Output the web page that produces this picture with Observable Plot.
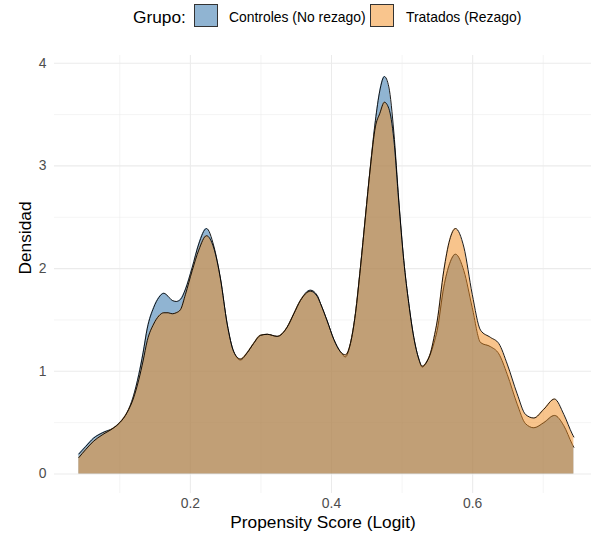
<!DOCTYPE html>
<html>
<head>
<meta charset="utf-8">
<script src="https://cdn.jsdelivr.net/npm/d3@7"></script>
<script src="https://cdn.jsdelivr.net/npm/@observablehq/plot@0.6"></script>
<style>
  html, body { margin: 0; padding: 0; background: #fff; }
  #wrap { position: relative; width: 591px; height: 537px; font-family: "Liberation Sans", Arial, sans-serif; }
  #legend { position: absolute; left: 0; top: 0; width: 591px; height: 34px; }
  #legend .t { position: absolute; font-size: 17.3px; line-height: 20px; color: #000; top: 7px; white-space: nowrap; }
  #legend .l { position: absolute; font-size: 13.9px; line-height: 16px; color: #000; top: 9px; white-space: nowrap; }
  #legend .k { position: absolute; top: 4px; width: 24px; height: 23px; border: 1px solid #333; box-sizing: border-box; }
</style>
</head>
<body>
<div id="wrap">
  <div id="legend"></div>
  <div id="chart"></div>
</div>
<script>
// ---- data ----
const xs = [0.042, 0.052, 0.063, 0.075, 0.0915, 0.1, 0.1105, 0.119, 0.127, 0.133, 0.139, 0.148, 0.1555, 0.1624, 0.1685, 0.1743, 0.18, 0.186, 0.1931, 0.2026, 0.2119, 0.2229, 0.2332, 0.2427, 0.2522, 0.2615, 0.271, 0.2805, 0.2895, 0.2994, 0.309, 0.323, 0.3372, 0.3466, 0.356, 0.3702, 0.3797, 0.3844, 0.3939, 0.4033, 0.4127, 0.4197, 0.4268, 0.4339, 0.441, 0.448, 0.4551, 0.4622, 0.4684, 0.475, 0.4812, 0.4883, 0.4954, 0.5024, 0.5095, 0.5166, 0.5237, 0.5285, 0.5356, 0.5403, 0.545, 0.5498, 0.5591, 0.5675, 0.5757, 0.5875, 0.5994, 0.6112, 0.6253, 0.6371, 0.649, 0.6631, 0.6749, 0.6867, 0.7008, 0.716, 0.7292, 0.7411, 0.7434];

const controles = [0.195, 0.27, 0.35, 0.40, 0.45, 0.50, 0.60, 0.75, 0.97, 1.18, 1.42, 1.62, 1.72, 1.76, 1.73, 1.69, 1.68, 1.70, 1.80, 2.01, 2.24, 2.39, 2.22, 1.90, 1.46, 1.19, 1.11, 1.18, 1.27, 1.35, 1.36, 1.34, 1.43, 1.56, 1.69, 1.79, 1.74, 1.66, 1.49, 1.31, 1.19, 1.14, 1.27, 1.56, 2.01, 2.50, 2.99, 3.44, 3.73, 3.87, 3.77, 3.33, 2.66, 2.08, 1.66, 1.33, 1.12, 1.04, 1.10, 1.17, 1.27, 1.40, 1.82, 2.05, 2.14, 1.98, 1.62, 1.28, 1.24, 1.17, 0.97, 0.68, 0.49, 0.45, 0.50, 0.57, 0.47, 0.29, 0.26];

const tratados = [0.16, 0.24, 0.32, 0.38, 0.45, 0.50, 0.60, 0.73, 0.92, 1.10, 1.30, 1.46, 1.54, 1.57, 1.57, 1.56, 1.57, 1.60, 1.75, 1.98, 2.18, 2.32, 2.20, 1.90, 1.46, 1.19, 1.12, 1.18, 1.27, 1.35, 1.36, 1.34, 1.43, 1.56, 1.69, 1.78, 1.73, 1.66, 1.49, 1.31, 1.19, 1.16, 1.27, 1.56, 2.01, 2.50, 2.99, 3.38, 3.51, 3.62, 3.56, 3.26, 2.64, 2.08, 1.66, 1.33, 1.12, 1.05, 1.10, 1.18, 1.32, 1.49, 1.98, 2.28, 2.39, 2.21, 1.75, 1.40, 1.33, 1.27, 1.07, 0.78, 0.58, 0.545, 0.63, 0.73, 0.58, 0.39, 0.36];

const grupos = ["Controles (No rezago)", "Tratados (Rezago)"];
const colores = ["#4682B4", "#F28A1A"];
const opacidades = [0.6, 0.5];

const xTicks = [0.2, 0.4, 0.6];
const xMinor = [0.1, 0.3, 0.5, 0.7];
const yTicks = [0, 1, 2, 3, 4];
const yMinor = [0.5, 1.5, 2.5, 3.5];

// ---- build rows ----
const rowsC = xs.map((x, i) => ({x, y: controles[i], grupo: grupos[0]}));
const rowsT = xs.map((x, i) => ({x, y: tratados[i], grupo: grupos[1]}));

const curve = "monotone-x";
const font = "\"Liberation Sans\", Arial, sans-serif";

const chart = Plot.plot({
  width: 591,
  height: 537,
  marginLeft: 54,
  marginRight: 0,
  marginTop: 55,
  marginBottom: 44,
  style: {fontFamily: font, background: "#fff"},
  x: {domain: [0.0075, 0.7684]},
  y: {domain: [-0.19, 4.075]},
  marks: [
    Plot.gridY(yMinor, {stroke: "#EBEBEB", strokeOpacity: 1, strokeWidth: 0.55}),
    Plot.gridY(yTicks, {stroke: "#EBEBEB", strokeOpacity: 1, strokeWidth: 1.07}),
    Plot.gridX(xMinor, {stroke: "#EBEBEB", strokeOpacity: 1, strokeWidth: 0.55}),
    Plot.gridX(xTicks, {stroke: "#EBEBEB", strokeOpacity: 1, strokeWidth: 1.07}),
    Plot.areaY(rowsC, {x: "x", y: "y", fill: colores[0], fillOpacity: opacidades[0], curve}),
    Plot.lineY(rowsC, {x: "x", y: "y", stroke: "#000", strokeWidth: 0.9, curve}),
    Plot.areaY(rowsT, {x: "x", y: "y", fill: colores[1], fillOpacity: opacidades[1], curve}),
    Plot.lineY(rowsT, {x: "x", y: "y", stroke: "#000", strokeWidth: 0.9, curve}),
    Plot.axisX(xTicks, {tickSize: 0, tickPadding: 5, fontSize: 13.9, color: "#4D4D4D", tickFormat: d => d.toFixed(1), label: null}),
    Plot.axisY(yTicks, {tickSize: 0, tickPadding: 8, fontSize: 13.9, color: "#4D4D4D", tickFormat: d => String(d), label: null}),
    Plot.text(["Propensity Score (Logit)"], {frameAnchor: "bottom", dy: 34, fontSize: 17.3, fill: "#000"}),
    Plot.text(["Densidad"], {frameAnchor: "left", dx: -29, rotate: -90, fontSize: 17.3, fill: "#000"})
  ]
});
document.getElementById("chart").appendChild(chart);

// ---- legend ----
const lg = document.getElementById("legend");
const mk = (cls, left, txt, style) => {
  const d = document.createElement("div");
  d.className = cls; d.style.left = left + "px";
  if (txt) d.textContent = txt;
  if (style) Object.assign(d.style, style);
  lg.appendChild(d);
  return d;
};
mk("t", 133, "Grupo:");
mk("k", 194, null, {background: d3.interpolateRgb("#fff", colores[0])(opacidades[0])});
mk("l", 229, grupos[0]);
mk("k", 370, null, {background: d3.interpolateRgb("#fff", colores[1])(opacidades[1])});
mk("l", 406, grupos[1]);
</script>
</body>
</html>
